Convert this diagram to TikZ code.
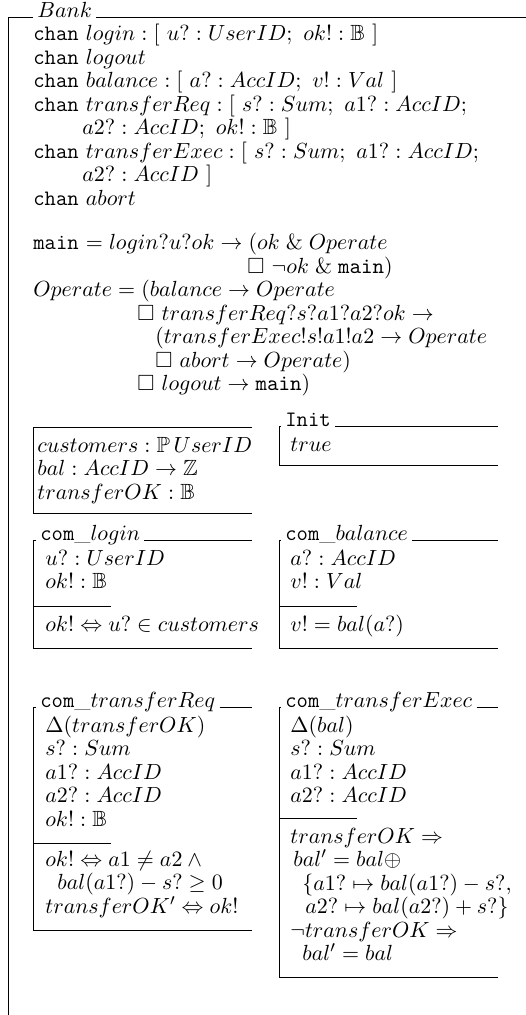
\documentclass[tikz,border=0pt]{standalone}
\usepackage{amssymb}
\newcommand{\zfont}{\fontsize{11}{11.75}\selectfont}
\tikzset{
    zbody/.style={
        anchor=base west,
        align=left,
        inner sep=0pt,
        font=\zfont
    },
    ztitle/.style={
        anchor=base west,
        inner xsep=2pt,
        inner ysep=0pt,
        font=\zfont
    },
    zline/.style={
        line width=0.5pt
    }
}

\begin{document}
\begin{tikzpicture}[x=0.5pt,y=-0.5pt]
\useasboundingbox (0,0) rectangle (525,1015);
% class frame (multi-line bodies are placed by their last baseline)
\node[ztitle] (bank) at (33,18) {$Bank$};
\draw[zline] (bank.base west) -- (8,18) -- (8,1020);
\draw[zline] (bank.base east) -- (530,18);
\node[zbody] (chans) at (33,205.5) {\texttt{chan} $login : [\ u? : UserID;\ ok! : \mathbb{B}\ ]$\\
\texttt{chan} $logout$\\
\texttt{chan} $balance : [\ a? : AccID;\ v! : Val\ ]$\\
\texttt{chan} $transferReq : [\ s? : Sum;\ a1? : AccID;$\\
\hspace*{24.5pt}$a2? : AccID;\ ok! : \mathbb{B}\ ]$\\
\texttt{chan} $transferExec : [\ s? : Sum;\ a1? : AccID;$\\
\hspace*{24.5pt}$a2? : AccID\ ]$\\
\texttt{chan} $abort$};
\node[zbody] (procs) at (33,391) {\texttt{main} $= login?u?ok \rightarrow (ok \mathrel{\&} Operate$\\
\hspace*{107pt}$\Box\ \lnot ok \mathrel{\&} \mathtt{main})$\\
$Operate = (balance \rightarrow Operate$\\
\hspace*{52pt}$\Box\ transferReq?s?a1?a2?ok \rightarrow$\\
\hspace*{61pt}$(transferExec!s!a1!a2 \rightarrow Operate$\\
\hspace*{61pt}$\Box\ abort \rightarrow Operate)$\\
\hspace*{52pt}$\Box\ logout \rightarrow \mathtt{main})$};
% state and Init
\node[zbody] (stateVars) at (37,499) {$customers : \mathbb{P}\,UserID$\\
$bal : AccID \rightarrow \mathbb{Z}$\\
$transferOK : \mathbb{B}$};
\draw[zline] (252,427) -- (33,427) -- (33,513) -- (252,513);
\node[ztitle] (initT) at (281,426) {\texttt{Init}};
\node[zbody] (initBody) at (290,451) {$true$};
\draw[zline] (initT.base west) -- (279,426) -- (279,465) -- (498,465);
\draw[zline] (initT.base east) -- (498,426);
% com_login
\node[ztitle] (loginT) at (36,540) {\texttt{com}\_$login$};
\node[zbody] (loginDecl) at (45,588.5) {$u? : UserID$\\
$ok! : \mathbb{B}$};
\node[zbody] (loginPred) at (45,631) {$ok! \Leftrightarrow u? \in customers$};
\draw[zline] (loginT.base west) -- (33,540) -- (33,648) -- (252,648);
\draw[zline] (loginT.base east) -- (252,540);
\draw[zline] (33,606) -- (111,606);
% com_balance
\node[ztitle] (balanceT) at (281,540) {\texttt{com}\_$balance$};
\node[zbody] (balanceDecl) at (290,588.5) {$a? : AccID$\\
$v! : Val$};
\node[zbody] (balancePred) at (290,631) {$v! = bal(a?)$};
\draw[zline] (balanceT.base west) -- (279,540) -- (279,648) -- (498,648);
\draw[zline] (balanceT.base east) -- (498,540);
\draw[zline] (279,606) -- (357,606);
% com_transferReq
\node[ztitle] (reqT) at (36,707) {\texttt{com}\_$transferReq$};
\node[zbody] (reqDecl) at (45,826) {$\Delta(transferOK)$\\
$s? : Sum$\\
$a1? : AccID$\\
$a2? : AccID$\\
$ok! : \mathbb{B}$};
\node[zbody] (reqPred) at (45,913) {$ok! \Leftrightarrow a1 \neq a2 \land{}$\\
\hspace*{6pt}$bal(a1?) - s? \geq 0$\\
$transferOK' \Leftrightarrow ok!$};
\draw[zline] (reqT.base west) -- (33,707) -- (33,930) -- (252,930);
\draw[zline] (reqT.base east) -- (252,707);
\draw[zline] (33,843) -- (111,843);
% com_transferExec
\node[ztitle] (execT) at (281,707) {\texttt{com}\_$transferExec$};
\node[zbody] (execDecl) at (290,802.5) {$\Delta(bal)$\\
$s? : Sum$\\
$a1? : AccID$\\
$a2? : AccID$};
\node[zbody] (execPred) at (290,960.5) {$transferOK \Rightarrow$\\
\hspace*{1.5pt}$bal' = bal \oplus$\\
\hspace*{6pt}$\{a1? \mapsto bal(a1?) - s?,$\\
\hspace*{7.5pt}$a2? \mapsto bal(a2?) + s?\}$\\
$\lnot transferOK \Rightarrow$\\
\hspace*{6pt}$bal' = bal$};
\draw[zline] (execT.base west) -- (279,707) -- (279,977) -- (498,977);
\draw[zline] (execT.base east) -- (498,707);
\draw[zline] (279,818) -- (357,818);
\end{tikzpicture}
\end{document}
